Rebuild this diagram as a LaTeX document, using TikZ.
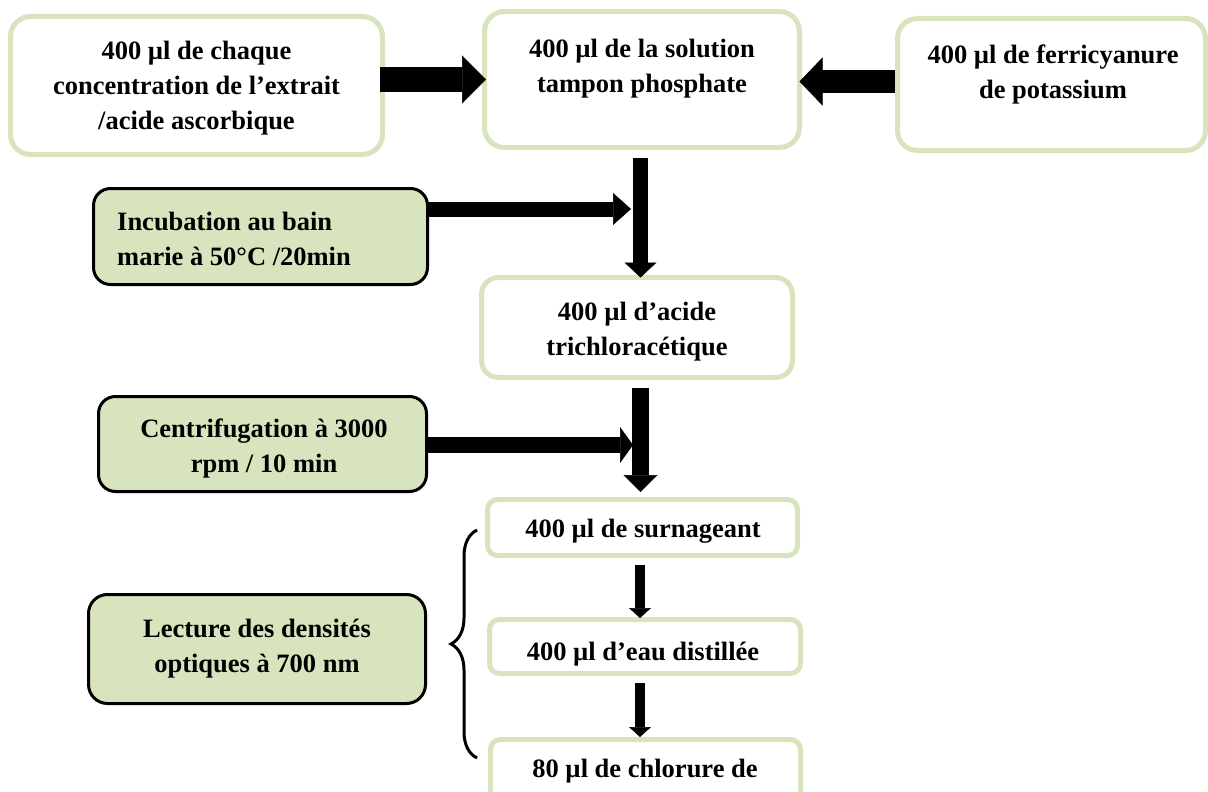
\documentclass[tikz,border=0pt]{standalone}
\usepackage{fontspec}
\setmainfont{Liberation Serif}
\usepackage{tikz}
\usetikzlibrary{calc,arrows.meta,decorations.pathreplacing}
\definecolor{olive}{HTML}{D7E4BD}
\tikzset{
  gbox/.style={draw=olive, line width=5pt, fill=white, rounded corners=#1, inner sep=0pt, outer sep=0pt},
  gbox/.default=20pt,
  kbox/.style={draw=black, line width=3pt, fill=olive, rounded corners=17pt, inner sep=0pt, outer sep=0pt},
  txt/.style={font=\bfseries\fontsize{26.5}{35}\selectfont, align=center, inner sep=0pt},
  fat/.style n args={3}{draw=black, line width=#1, -{Triangle[length=#2, width=#3, line width=0.5pt]}},
  brc/.style={draw=black, line width=3pt, decorate, decoration={brace, amplitude=26pt}}
}

\begin{document}
\begin{tikzpicture}[x=1pt,y=-1pt]
  \clip (0,0) rectangle (1208,792);
  \useasboundingbox (0,0) rectangle (1208,792);

  % top row
  \node[gbox, minimum width=372pt, minimum height=138pt] (extrait) at (196.5,85.5) {};
  \node[gbox, minimum width=315pt, minimum height=136pt] (tampon) at (642,79.5) {};
  \node[gbox, minimum width=308pt, minimum height=132pt] (ferri) at (1051.5,84.5) {};
  \node[txt] (textrait) at (196.5,87.7) {400 µl de chaque\\concentration de l’extrait\\/acide ascorbique};
  \node[txt] (ttampon) at (642,68.2) {400 µl de la solution\\tampon phosphate};
  \node[txt] (tferri) at (1053,74.2) {400 µl de ferricyanure\\de potassium};

  % middle column
  \node[gbox=17pt, minimum width=311pt, minimum height=100pt] (tca) at (637,327.5) {};
  \node[gbox=10pt, minimum width=310pt, minimum height=56pt] (surn) at (642.5,527.5) {};
  \node[gbox=10pt, minimum width=311pt, minimum height=54pt] (eau) at (645,646.5) {};
  \node[gbox=10pt, minimum width=310pt, minimum height=70pt] (chlor) at (645.5,774.5) {};
  \node[txt] (ttca) at (637,331.2) {400 µl d’acide\\trichloracétique};
  \node[txt] (tsurn) at (643,531.6) {400 µl de surnageant};
  \node[txt] (teau) at (643,654.2) {400 µl d’eau distillée};
  \node[txt] (tchlor) at (645,771.2) {80 µl de chlorure de};

  % steps on the left
  \node[kbox, minimum width=334pt, minimum height=96pt] (incub) at (260.5,236.5) {};
  \node[kbox, minimum width=328pt, minimum height=95pt] (centri) at (262.5,444) {};
  \node[kbox, rounded corners=19pt, minimum width=337pt, minimum height=109pt] (lect) at (257,649) {};
  \node[txt, align=left, anchor=west] (tincub) at (117,239) {Incubation au bain\\marie à 50°C /20min};
  \node[txt] (tcentri) at (264,448.6) {Centrifugation à 3000\\rpm / 10 min};
  \node[txt] (tlect) at (257,648.2) {Lecture des densités\\optiques à 700 nm};

  \coordinate (m1) at (631,209);
  \coordinate (m2) at (633,445);
  \coordinate (bt) at (477,530);
  \coordinate (bb) at (477,758);

  % arrows
  \draw[fat={25pt}{24pt}{48pt}, shorten <=-2.5pt] (extrait.east |- tampon.west) -- ([xshift=1.5pt]tampon.west);
  \draw[fat={23pt}{23pt}{48pt}, shorten <=2.5pt] (ferri.west |- 0,81.5) -- (tampon.east |- 0,81.5);
  \draw[fat={15pt}{15pt}{32pt}] ([yshift=-10.5pt]tampon.south -| 640.5,0) -- (tca.north -| 640.5,0);
  \draw[fat={15pt}{18pt}{32pt}] (incub.east |- m1) -- (m1);
  \draw[fat={17pt}{17pt}{34pt}, shorten >=7.5pt] ([yshift=-10.5pt]tca.south -| 640.5,0) -- (surn.north -| 640.5,0);
  \draw[fat={16pt}{13pt}{36pt}] (centri.east |- m2) -- (m2);
  \draw[fat={10pt}{10pt}{22pt}, shorten >=1.5pt] ([yshift=-9.5pt]surn.south -| 640,0) -- (eau.north -| 640,0);
  \draw[fat={10pt}{10pt}{22pt}, shorten >=2.5pt] ([yshift=-9.5pt]eau.south -| 640,0) -- (chlor.north -| 640,0);

  % brace
  \draw[brc] (bb) -- (bt);
\end{tikzpicture}
\end{document}
